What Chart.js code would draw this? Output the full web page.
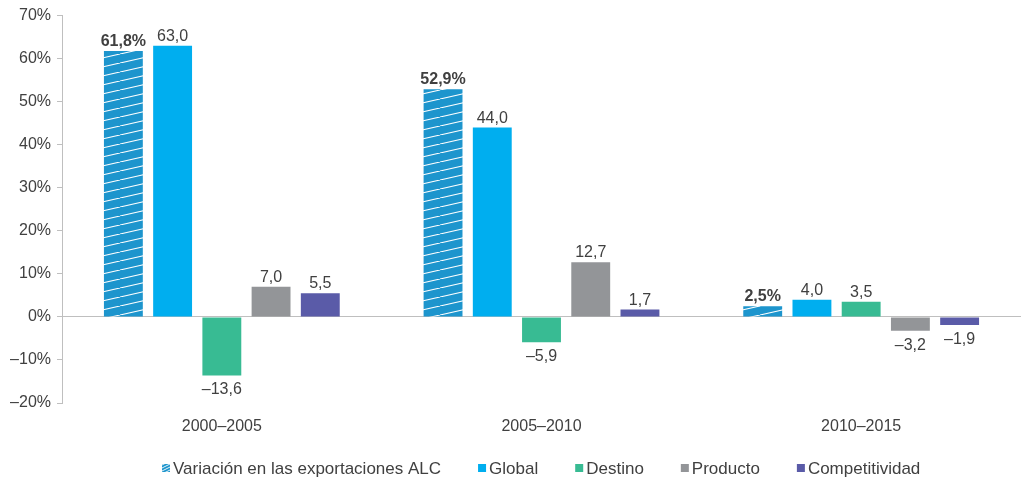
<!DOCTYPE html>
<html>
<head>
<meta charset="utf-8">
<script src="https://cdn.jsdelivr.net/npm/chart.js@4"></script>
<style>
  html, body { margin: 0; padding: 0; background: #fff; }
  #wrap { width: 1021px; height: 483px; }
</style>
</head>
<body>
<div id="wrap"><canvas id="chart"></canvas></div>
<script>
'use strict';

// ── Data ──────────────────────────────────────
const periods        = ['2000–2005', '2005–2010', '2010–2015'];
const variacionALC   = [61.8, 52.9, 2.5];
const global         = [63.0, 44.0, 4.0];
const destino        = [-13.6, -5.9, 3.5];
const producto       = [7.0, 12.7, -3.2];
const competitividad = [5.5, 1.7, -1.9];
const yTicks         = [-20, -10, 0, 10, 20, 30, 40, 50, 60, 70];

// ── Palette ───────────────────────────────────
const colorHatch   = '#1D95CD';
const colorGlobal  = '#00AEEF';
const colorDestino = '#38BB93';
const colorProd    = '#939598';
const colorComp    = '#5A5BA8';
const colorText    = '#404040';
const colorAxis    = '#BFBFBF';
const fontFamily   = '"Liberation Sans", Arial, sans-serif';

// Diagonal white hatch for the ALC series
function makeHatch() {
    const w = 40, h = 9;
    const c = document.createElement('canvas');
    c.width = w; c.height = h;
    const g = c.getContext('2d');
    g.fillStyle = colorHatch;
    g.fillRect(0, 0, w, h);
    g.strokeStyle = '#ffffff';
    g.lineWidth = 1.1;
    [-w, 0, w].forEach(function (dx) {
        g.beginPath();
        g.moveTo(dx, h);
        g.lineTo(dx + w, 0);
        g.stroke();
    });
    return g.createPattern(c, 'repeat');
}
const hatch = makeHatch();

const fmt = (v) => (v < 0 ? '–' : '') + Math.abs(v).toFixed(1).replace('.', ',');

// Value labels above / below each bar
const barLabels = {
    id: 'barLabels',
    afterDatasetsDraw(chart) {
        const ctx = chart.ctx;
        ctx.save();
        ctx.textAlign = 'center';
        ctx.textBaseline = 'alphabetic';
        ctx.fillStyle = colorText;
        chart.data.datasets.forEach(function (ds, di) {
            const meta = chart.getDatasetMeta(di);
            const first = di === 0;
            ctx.font = (first ? 'bold ' : '') + '16px ' + fontFamily;
            meta.data.forEach(function (bar, i) {
                const v = ds.data[i];
                const text = first ? fmt(v) + '%' : fmt(v);
                if (v >= 0) ctx.fillText(text, bar.x, bar.y - 5);
                else        ctx.fillText(text, bar.x, bar.y + 19);
            });
        });
        ctx.restore();
    }
};

// Compact legend: small square, tight gap, centred under the plot
const bottomLegend = {
    id: 'bottomLegend',
    afterDraw(chart) {
        const ctx = chart.ctx;
        const box = 8, gap = 3, spacing = 37, y = 468;
        ctx.save();
        ctx.font = '17px ' + fontFamily;
        ctx.textBaseline = 'middle';
        ctx.textAlign = 'left';
        const items = chart.data.datasets.map(function (ds) {
            return { text: ds.label, color: ds.backgroundColor, w: ctx.measureText(ds.label).width };
        });
        const total = items.reduce((s, it) => s + box + gap + it.w, 0) + spacing * (items.length - 1);
        const area = chart.chartArea;
        let x = Math.round((area.left + area.right) / 2 - total / 2);
        items.forEach(function (it, i) {
            const top = y - box / 2;
            if (i === 0) {
                ctx.fillStyle = colorHatch;
                ctx.fillRect(x, top, box, box);
                ctx.save();
                ctx.beginPath();
                ctx.rect(x, top, box, box);
                ctx.clip();
                ctx.strokeStyle = '#ffffff';
                ctx.lineWidth = 0.9;
                for (let k = -2; k < 5; k++) {
                    ctx.beginPath();
                    ctx.moveTo(x, top + k * 3 + 4);
                    ctx.lineTo(x + box, top + k * 3);
                    ctx.stroke();
                }
                ctx.restore();
            } else {
                ctx.fillStyle = it.color;
                ctx.fillRect(x, top, box, box);
            }
            ctx.fillStyle = colorText;
            ctx.fillText(it.text, x + box + gap, y + 1);
            x += box + gap + it.w + spacing;
        });
        ctx.restore();
    }
};

const barOpts = { barPercentage: 0.79, categoryPercentage: 0.77, borderWidth: 0 };

new Chart(document.getElementById('chart'), {
    type: 'bar',
    data: {
        labels: periods,
        datasets: [
            { label: 'Variación en las exportaciones ALC', data: variacionALC, backgroundColor: hatch, ...barOpts },
            { label: 'Global',         data: global,         backgroundColor: colorGlobal,  ...barOpts },
            { label: 'Destino',        data: destino,        backgroundColor: colorDestino, ...barOpts },
            { label: 'Producto',       data: producto,       backgroundColor: colorProd,    ...barOpts },
            { label: 'Competitividad', data: competitividad, backgroundColor: colorComp,    ...barOpts }
        ]
    },
    options: {
        responsive: true,
        maintainAspectRatio: false,
        animation: false,
        devicePixelRatio: 1,
        layout: { padding: { top: 10, right: 0, left: 0, bottom: 46 } },
        plugins: {
            tooltip: { enabled: false },
            legend: { display: false }
        },
        scales: {
            x: {
                grid: { display: false },
                border: { display: false },
                afterFit: function (scale) { scale.height = 34; },
                ticks: { color: colorText, font: { family: fontFamily, size: 16 }, padding: 6 }
            },
            y: {
                min: yTicks[0],
                max: yTicks[yTicks.length - 1],
                afterBuildTicks: function (scale) {
                    scale.ticks = yTicks.map(function (v) { return { value: v }; });
                },
                afterFit: function (scale) { scale.width = 62; },
                grid: {
                    color: (c) => (c.tick && c.tick.value === 0 ? colorAxis : 'transparent'),
                    tickColor: colorAxis,
                    tickLength: 5
                },
                border: { display: true, color: colorAxis },
                ticks: {
                    color: colorText,
                    font: { family: fontFamily, size: 16 },
                    padding: 6,
                    callback: (v) => (v < 0 ? '–' + Math.abs(v) : v) + '%'
                }
            }
        }
    },
    plugins: [barLabels, bottomLegend]
});
</script>
</body>
</html>
